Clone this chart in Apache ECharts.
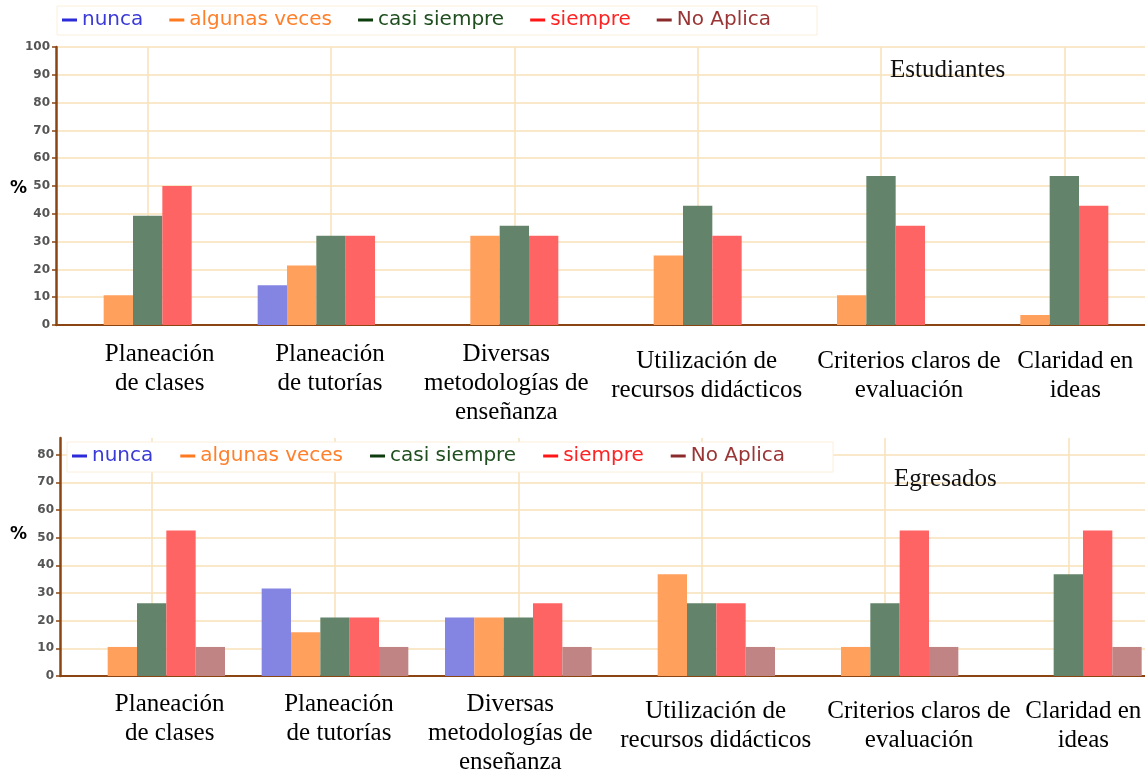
<!DOCTYPE html>
<html>
<head>
<meta charset="utf-8">
<script src="https://cdn.jsdelivr.net/npm/echarts@6/dist/echarts.min.js"></script>
<style>
  html, body { margin: 0; padding: 0; background: #fff; }
  #chart { width: 1145px; height: 772px; }
</style>
</head>
<body>
<div id="chart"></div>
<script>
// ---- Data ----
const categories = [
  'Planeación\nde clases',
  'Planeación\nde tutorías',
  'Diversas\nmetodologías de\nenseñanza',
  'Utilización de\nrecursos didácticos',
  'Criterios claros de\nevaluación',
  'Claridad en\nideas'
];
const seriesNames = ['nunca', 'algunas veces', 'casi siempre', 'siempre', 'No Aplica'];

// Estudiantes (%)
const estNunca     = [0, 14.3, 0, 0, 0, 0];
const estAlgunas   = [10.7, 21.4, 32.1, 25.0, 10.7, 3.6];
const estCasi      = [39.3, 32.1, 35.7, 42.9, 53.6, 53.6];
const estSiempre   = [50.0, 32.1, 32.1, 32.1, 35.7, 42.9];
const estNoAplica  = [0, 0, 0, 0, 0, 0];

// Egresados (%)
const egrNunca     = [0, 31.6, 21.1, 0, 0, 0];
const egrAlgunas   = [10.5, 15.8, 21.1, 36.8, 10.5, 0];
const egrCasi      = [26.3, 21.1, 21.1, 26.3, 26.3, 36.8];
const egrSiempre   = [52.6, 21.1, 26.3, 26.3, 52.6, 52.6];
const egrNoAplica  = [10.5, 10.5, 10.5, 10.5, 10.5, 10.5];

const titleTop = 'Estudiantes';
const titleBottom = 'Egresados';
const yName = '%';

// ---- Styles ----
const barColors = ['#8484e2', '#ffa05c', '#63846a', '#ff6464', '#c08484'];
const legendIconColors = ['#2b2bd9', '#ff7a1f', '#0d3d0d', '#ff1515', '#8b2a2a'];
const legendTextColors = ['#3a3ad6', '#ff7f2a', '#1f4f1f', '#ff2222', '#9b3535'];
const axisBrown = '#8b4513';
const gridColor = '#f7e2b8';

// label shifts [top, right, bottom, left] per category
const padTop = [[0,0,0,24],[0,2,0,0],[0,16,0,0],[7,0,0,18],[7,0,0,56],[7,0,0,22]];
const padBot = [[0,0,0,36],[0,0,0,8],[0,16,0,0],[7,0,0,28],[7,0,0,68],[7,0,0,30]];

function catData(pads) {
  return categories.map((c, i) => ({ value: c, textStyle: { padding: pads[i] } }));
}

function legendData() {
  return seriesNames.map((n, i) => ({
    name: n,
    itemStyle: { color: legendIconColors[i] },
    textStyle: { color: legendTextColors[i] }
  }));
}

function xAxis(gridIndex, pads, margin) {
  return {
    type: 'category',
    gridIndex: gridIndex,
    data: catData(pads),
    boundaryGap: true,
    axisLine: { lineStyle: { color: axisBrown, width: 2 } },
    axisTick: { alignWithLabel: true, length: 4, lineStyle: { color: axisBrown, width: 1.5 } },
    splitLine: { show: true, alignWithLabel: true, lineStyle: { color: gridColor, width: 1.5 } },
    axisLabel: {
      interval: 0,
      margin: margin,
      color: '#000',
      fontFamily: 'Liberation Serif',
      fontSize: 25,
      lineHeight: 29
    }
  };
}

function yAxis(gridIndex, max) {
  return {
    type: 'value',
    gridIndex: gridIndex,
    min: 0,
    max: max,
    interval: 10,
    axisLine: { show: true, lineStyle: { color: axisBrown, width: 2.5 } },
    axisTick: { show: true, length: 4, lineStyle: { color: axisBrown, width: 1.5 } },
    axisLabel: {
      color: '#555', fontSize: 12, fontWeight: 'bold', fontFamily: 'DejaVu Sans', margin: 6,
      showMaxLabel: max % 10 === 0
    },
    splitLine: { show: true, showMaxLine: max % 10 === 0, lineStyle: { color: gridColor, width: 1.5 } }
  };
}

const estData = [estNunca, estAlgunas, estCasi, estSiempre, estNoAplica];
const egrData = [egrNunca, egrAlgunas, egrCasi, egrSiempre, egrNoAplica];

const series = [];
[estData, egrData].forEach((set, g) => {
  set.forEach((vals, i) => {
    series.push({
      name: seriesNames[i],
      type: 'bar',
      xAxisIndex: g,
      yAxisIndex: g,
      data: vals,
      barGap: '0%',
      barCategoryGap: '20%',
      itemStyle: { color: barColors[i] },
      emphasis: { disabled: true }
    });
  });
});

const serifTitle = { fontFamily: 'Liberation Serif', fontSize: 25, fontWeight: 'normal', color: '#111' };
const pctStyle = { fontFamily: 'DejaVu Sans', fontSize: 17, fontWeight: 'bold', color: '#000' };

const chart = echarts.init(document.getElementById('chart'), null, { renderer: 'canvas' });
chart.setOption({
  backgroundColor: '#fff',
  animation: false,
  title: [
    { text: titleTop, left: 890, top: 58, padding: 0, textStyle: serifTitle },
    { text: titleBottom, left: 894, top: 467, padding: 0, textStyle: serifTitle },
    { text: yName, left: 10, top: 180, padding: 0, textStyle: pctStyle },
    { text: yName, left: 10, top: 526, padding: 0, textStyle: pctStyle }
  ],
  legend: [
    {
      data: legendData(),
      left: 57, top: 6,
      icon: 'rect', itemWidth: 15, itemHeight: 3, itemGap: 26,
      textStyle: { fontFamily: 'DejaVu Sans', fontSize: 20 },
      backgroundColor: '#fff',
      borderColor: '#fbeedc', borderWidth: 1,
      padding: [4, 46, 5, 5],
      selectedMode: false
    },
    {
      data: legendData(),
      left: 67, top: 442,
      icon: 'rect', itemWidth: 15, itemHeight: 3, itemGap: 27,
      textStyle: { fontFamily: 'DejaVu Sans', fontSize: 20 },
      backgroundColor: '#fff',
      borderColor: '#fbeedc', borderWidth: 1,
      padding: [4, 48, 6, 5],
      z: 10,
      selectedMode: false
    }
  ],
  grid: [
    { left: 56, top: 47, width: 1100, height: 278, outerBoundsMode: 'none' },
    { left: 60, top: 438, width: 1100, height: 238, outerBoundsMode: 'none' }
  ],
  xAxis: [xAxis(0, padTop, 15), xAxis(1, padBot, 14)],
  yAxis: [yAxis(0, 100), yAxis(1, 86)],
  series: series
});
</script>
</body>
</html>
